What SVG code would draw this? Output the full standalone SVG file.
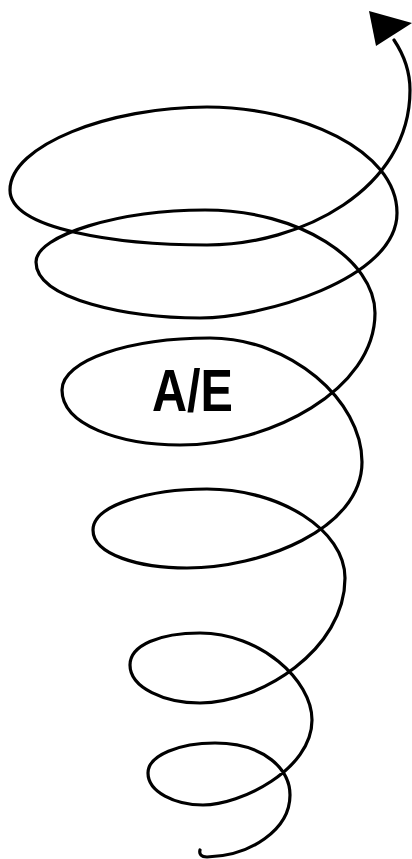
<svg xmlns="http://www.w3.org/2000/svg" width="412" height="859" viewBox="0 0 412 859">
<style>
.spiral{fill:none;stroke:#000;stroke-width:3.2;stroke-linecap:round;stroke-linejoin:round}
.label{font-family:"Liberation Sans",Arial,sans-serif;font-weight:bold;font-size:60px;fill:#000}
</style>
<rect width="412" height="859" fill="#fff"/>
<g id="spiral">
<path class="spiral" d="M 200 850 C 199 854, 201 857, 207 857
C 250 856, 290 830, 290 795
C 290 770, 265 743, 215 743
C 180 743, 148 755, 148 773
C 148 792, 175 805, 203 805
C 240 805, 312 770, 312 720
C 312 680, 260 633, 200 633
C 160 633, 130 645, 130 665
C 130 688, 165 703, 200 703
C 260 703, 345 650, 345 578
C 345 530, 280 489, 207 489
C 150 489, 93 505, 93 530
C 93 555, 140 568, 187 568
C 260 568, 362 530, 362 462
C 362 400, 290 338, 210 338
C 130 338, 62 360, 62 390
C 62 425, 120 445, 180 445
C 270 445, 375 390, 375 313
C 375 260, 300 210, 205 210
C 120 210, 36 235, 36 262
C 36 300, 130 318, 200 318
C 260 318, 397 280, 397 213
C 397 150, 300 107, 207 107
C 110 107, 10 145, 10 190
C 10 230, 120 245, 207 245
C 300 245, 410 190, 410 90
C 410 70, 404 55, 394 40"/>
<polygon points="369,11 412,23 376,46" fill="#000"/>
</g>
<g id="label">
<text class="label" x="152" y="411" textLength="81" lengthAdjust="spacingAndGlyphs">A/E</text>
</g>
</svg>
